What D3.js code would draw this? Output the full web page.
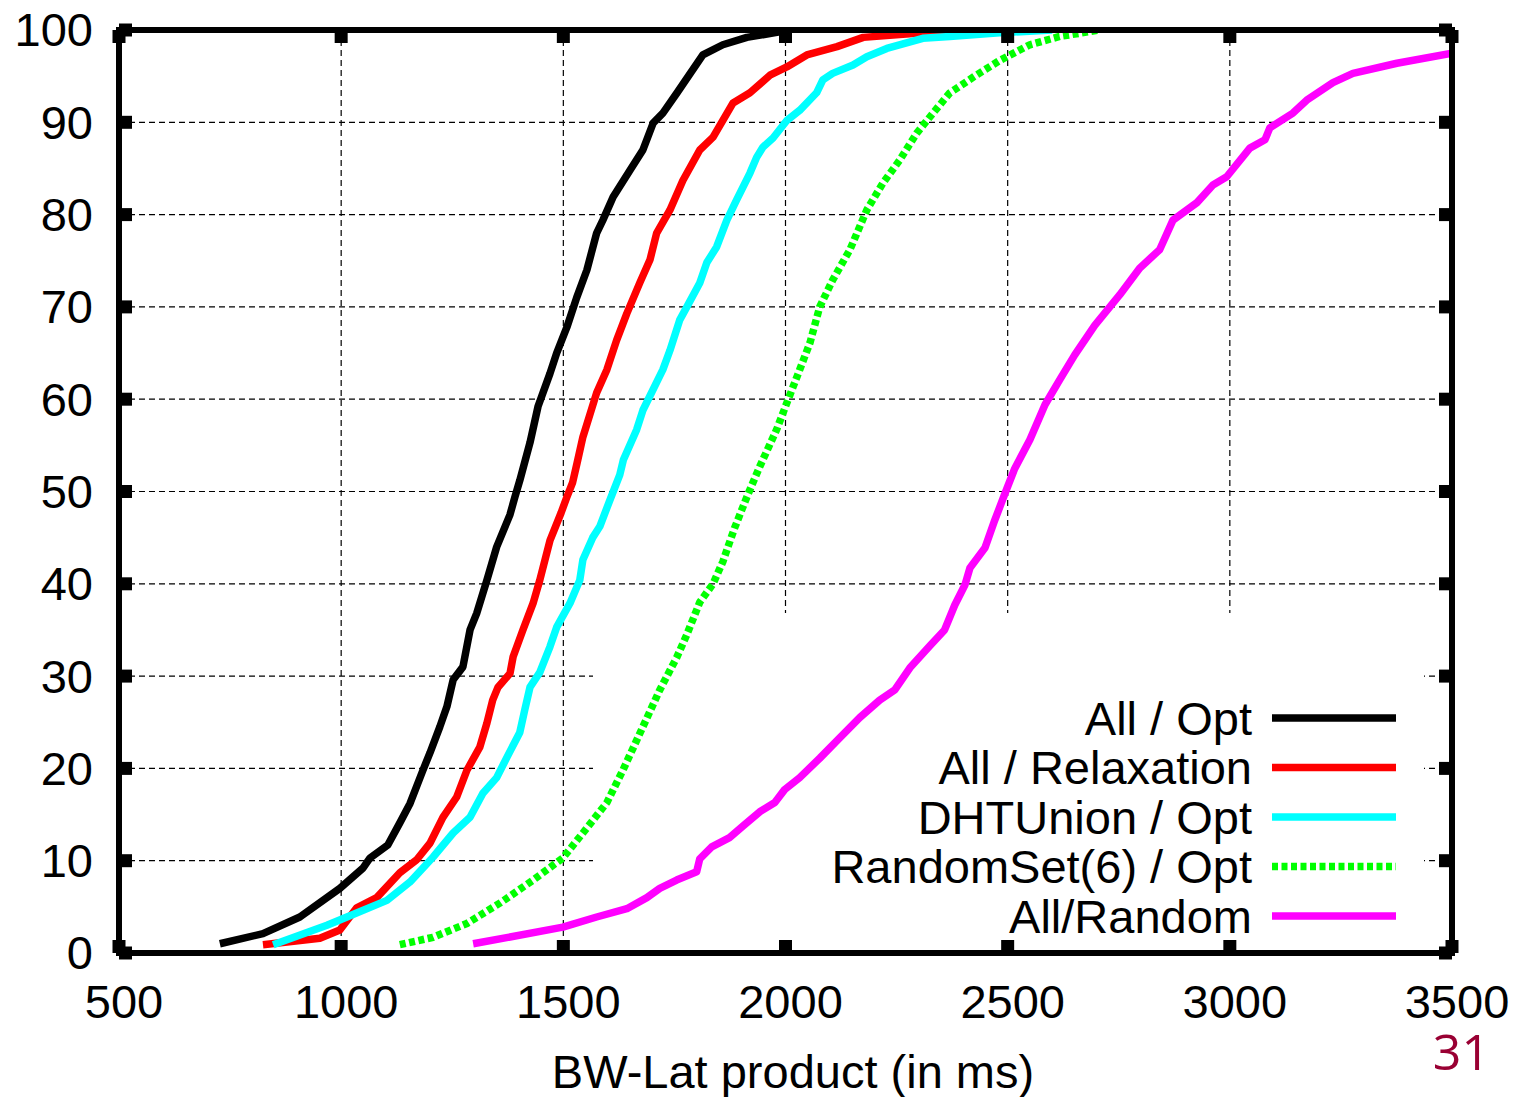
<!DOCTYPE html>
<html>
<head>
<meta charset="utf-8">
<script src="https://cdn.jsdelivr.net/npm/d3@7"></script>
<style>
  body { margin: 0; background: #fff; }
  text { font-family: "Liberation Sans", Arial, sans-serif; fill: #000; }
</style>
</head>
<body>
<div id="chart"></div>
<script>
// tick labels
var xTicks = [500, 1000, 1500, 2000, 2500, 3000, 3500]
var yTicks = [0, 10, 20, 30, 40, 50, 60, 70, 80, 90, 100]

// series names + colours
var seriesNames = ['All / Opt', 'All / Relaxation', 'DHTUnion / Opt', 'RandomSet(6) / Opt', 'All/Random']
var seriesColors = ['#000000', '#ff0000', '#00ffff', '#00ff00', '#ff00ff']

// [BW-Lat product, cumulative %]
var allOpt = [[727, 1], [824, 2.1], [907, 3.9], [997, 7], [1049, 9.2], [1065, 10.3], [1105, 11.7], [1132, 14.1], [1155, 16.2], [1184, 19.8], [1200, 21.7], [1222, 24.5], [1238, 26.7], [1252, 29.6], [1274, 31], [1290, 35], [1305, 36.8], [1328, 40.4], [1350, 44], [1380, 47.5], [1391, 49.4], [1402, 51.2], [1425, 55.3], [1443, 59.2], [1470, 62.8], [1485, 65], [1508, 67.8], [1530, 71], [1553, 74], [1575, 78], [1589, 79.4], [1612, 81.9], [1650, 84.8], [1679, 87], [1702, 89.9], [1724, 91], [1756, 93.2], [1814, 97.3], [1859, 98.4], [1913, 99.2], [1987, 99.8], [2010, 100]]
var allRelax = [[824, 0.9], [952, 1.6], [997, 2.5], [1035, 4.9], [1080, 6], [1132, 8.7], [1170, 10.1], [1200, 11.9], [1229, 14.7], [1260, 16.9], [1283, 19.8], [1312, 22.3], [1328, 24.9], [1341, 27.4], [1353, 28.8], [1380, 30.3], [1387, 32.1], [1409, 35], [1432, 37.9], [1447, 40.4], [1470, 44.7], [1495, 47.7], [1508, 49.4], [1521, 51], [1531, 53.1], [1544, 55.9], [1575, 60.7], [1598, 63.2], [1620, 66.4], [1643, 69.3], [1672, 72.6], [1695, 75.1], [1710, 78], [1740, 80.5], [1769, 83.7], [1807, 87], [1837, 88.4], [1882, 92.1], [1920, 93.2], [1965, 95.1], [2003, 96], [2048, 97.3], [2116, 98.2], [2175, 99.2], [2309, 99.7], [2400, 100]]
var dhtUnion = [[847, 0.9], [968, 3], [1013, 3.9], [1103, 5.7], [1155, 7.7], [1207, 10.4], [1252, 13], [1290, 14.7], [1319, 17.3], [1350, 19], [1373, 21.2], [1402, 23.9], [1413, 26.3], [1425, 28.8], [1447, 30.4], [1470, 33.2], [1485, 35.3], [1515, 37.9], [1537, 40.4], [1544, 42.6], [1566, 45], [1582, 46.2], [1605, 49.1], [1627, 51.8], [1635, 53.4], [1665, 56.7], [1679, 58.8], [1724, 63.2], [1740, 65.3], [1762, 68.6], [1778, 70], [1807, 72.6], [1823, 74.8], [1845, 76.5], [1868, 79.4], [1890, 81.6], [1920, 84.5], [1935, 86.2], [1949, 87.3], [1972, 88.3], [2003, 90.2], [2032, 91.3], [2070, 93.2], [2084, 94.6], [2106, 95.3], [2152, 96.2], [2183, 97.1], [2228, 98], [2309, 99.1], [2370, 99.3], [2482, 99.7], [2600, 100]]
var randomSet = [[1132, 0.9], [1207, 1.7], [1283, 3.2], [1357, 5.4], [1432, 7.9], [1499, 10.3], [1544, 13], [1598, 16.3], [1634, 19.8], [1679, 24.5], [1717, 28.5], [1755, 32], [1778, 34.5], [1807, 38], [1837, 40], [1859, 42.4], [1885, 46], [1913, 49.4], [1942, 52.7], [1980, 56.7], [2003, 59.6], [2032, 63.2], [2055, 66.1], [2077, 70], [2106, 72.9], [2145, 76.2], [2183, 80.5], [2219, 83.4], [2257, 85.9], [2295, 88.8], [2332, 91], [2370, 93.2], [2426, 95], [2482, 96.7], [2550, 98.4], [2617, 99.3], [2707, 100]]
var allRandom = [[1297, 1], [1499, 2.8], [1575, 3.9], [1643, 4.8], [1688, 6], [1717, 7], [1755, 7.9], [1800, 8.8], [1807, 10.2], [1834, 11.5], [1874, 12.5], [1908, 13.9], [1942, 15.3], [1976, 16.3], [1998, 17.7], [2032, 19], [2077, 21.1], [2122, 23.3], [2167, 25.5], [2212, 27.4], [2246, 28.5], [2280, 30.9], [2325, 33.3], [2358, 35], [2381, 37.7], [2404, 39.9], [2415, 41.7], [2449, 43.9], [2471, 46.9], [2494, 49.8], [2516, 52.5], [2550, 55.6], [2584, 59.4], [2617, 62.1], [2651, 64.8], [2696, 68], [2752, 71.3], [2797, 74.2], [2842, 76.2], [2872, 79.4], [2926, 81.3], [2962, 83.2], [2993, 84.1], [3045, 87.2], [3079, 88.1], [3090, 89.4], [3142, 91], [3173, 92.4], [3232, 94.3], [3277, 95.3], [3376, 96.4], [3500, 97.5]]

var seriesData = [allOpt, allRelax, dhtUnion, randomSet, allRandom]

var W = 1520
var H = 1097
var plot = { left: 119, right: 1452, top: 30, bottom: 953 }
var fontSize = 47

var x = d3.scaleLinear().domain([500, 3500]).range([plot.left, plot.right])
var y = d3.scaleLinear().domain([0, 100]).range([plot.bottom, plot.top])

var svg = d3.select('#chart').append('svg')
  .attr('width', W)
  .attr('height', H)

svg.append('rect').attr('width', W).attr('height', H).attr('fill', '#fff')

// dashed grid
var grid = svg.append('g').attr('stroke', '#000').attr('stroke-width', 1.2).attr('stroke-dasharray', '6,4')
grid.selectAll('.gx')
  .data(xTicks.slice(1, -1))
  .enter().append('line')
  .attr('x1', d => x(d)).attr('x2', d => x(d))
  .attr('y1', plot.top).attr('y2', plot.bottom)
grid.selectAll('.gy')
  .data(yTicks.slice(1, -1))
  .enter().append('line')
  .attr('y1', d => y(d)).attr('y2', d => y(d))
  .attr('x1', plot.left).attr('x2', plot.right)

// opaque key box hides the grid behind it
var key = { left: 593, right: 1424, top: 613 }
svg.append('rect')
  .attr('x', key.left).attr('y', key.top)
  .attr('width', key.right - key.left)
  .attr('height', plot.bottom - key.top)
  .attr('fill', '#fff')

svg.append('clipPath').attr('id', 'clip')
  .append('rect')
  .attr('x', plot.left).attr('y', plot.top)
  .attr('width', plot.right - plot.left).attr('height', plot.bottom - plot.top)

var line = d3.line().x(d => x(d[0])).y(d => y(d[1]))

svg.append('g').attr('clip-path', 'url(#clip)')
  .selectAll('path')
  .data(seriesData)
  .enter().append('path')
  .attr('d', line)
  .attr('fill', 'none')
  .attr('stroke', (d, i) => seriesColors[i])
  .attr('stroke-width', 7.5)
  .attr('stroke-linejoin', 'round')
  .attr('stroke-dasharray', (d, i) => i === 3 ? '6,3.5' : null)

// legend
var legend = svg.append('g').selectAll('g')
  .data(seriesNames)
  .enter().append('g')
  .attr('transform', (d, i) => `translate(0,${718 + i * 49.5})`)
legend.append('text')
  .attr('x', 1252)
  .attr('dy', '0.36em')
  .attr('text-anchor', 'end')
  .attr('font-size', fontSize)
  .text(d => d)
legend.append('line')
  .attr('x1', 1272).attr('x2', 1396)
  .attr('stroke', (d, i) => seriesColors[i])
  .attr('stroke-width', 7.5)
  .attr('stroke-dasharray', (d, i) => i === 3 ? '6,3.5' : null)

// frame
svg.append('rect')
  .attr('x', plot.left).attr('y', plot.top)
  .attr('width', plot.right - plot.left).attr('height', plot.bottom - plot.top)
  .attr('fill', 'none')
  .attr('stroke', '#000')
  .attr('stroke-width', 6)

// square tick marks on all four sides
var ticks = svg.append('g').attr('stroke', '#000').attr('stroke-width', 13)
xTicks.forEach(v => {
  ticks.append('line').attr('x1', x(v)).attr('x2', x(v)).attr('y1', plot.bottom).attr('y2', plot.bottom - 13)
  ticks.append('line').attr('x1', x(v)).attr('x2', x(v)).attr('y1', plot.top).attr('y2', plot.top + 13)
})
yTicks.forEach(v => {
  ticks.append('line').attr('y1', y(v)).attr('y2', y(v)).attr('x1', plot.left).attr('x2', plot.left + 13)
  ticks.append('line').attr('y1', y(v)).attr('y2', y(v)).attr('x1', plot.right).attr('x2', plot.right - 13)
})

// tick labels
svg.append('g').selectAll('text')
  .data(xTicks)
  .enter().append('text')
  .attr('x', d => x(d) + 5)
  .attr('y', 1018)
  .attr('text-anchor', 'middle')
  .attr('font-size', fontSize)
  .text(d => d)
svg.append('g').selectAll('text')
  .data(yTicks)
  .enter().append('text')
  .attr('x', 93)
  .attr('y', d => y(d))
  .attr('dy', '0.35em')
  .attr('text-anchor', 'end')
  .attr('font-size', fontSize)
  .text(d => d)

// axis title
svg.append('text')
  .attr('x', 793)
  .attr('y', 1088)
  .attr('text-anchor', 'middle')
  .attr('font-size', fontSize)
  .text('BW-Lat product (in ms)')

// slide number
svg.append('text')
  .attr('x', 1490)
  .attr('y', 1070)
  .attr('text-anchor', 'end')
  .attr('font-size', 50)
  .style('font-family', '"Open Sans", sans-serif')
  .style('fill', '#990033')
  .text('31')
</script>
</body>
</html>
